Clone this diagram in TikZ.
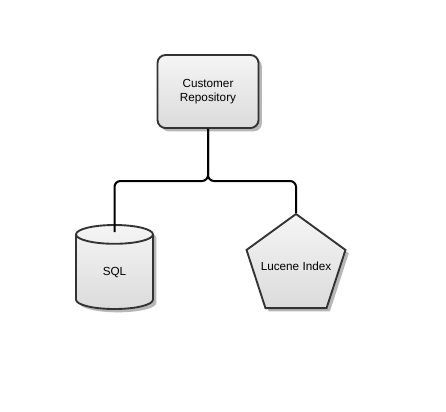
\documentclass[tikz,border=0pt]{standalone}
\usepackage{fontspec}
\setmainfont{Liberation Sans}
\usetikzlibrary{shapes.geometric,shadows}

\tikzset{
    box/.style={draw=black!80, line width=1.4pt, top color=white!96!black, bottom color=black!14,
        drop shadow={shadow xshift=2.5pt, shadow yshift=-2.5pt, fill=black!40, opacity=.7},
        font=\fontsize{8.8}{10.8}\selectfont, align=center, inner sep=0pt},
    wire/.style={line width=1.5pt, rounded corners=4.5pt}
}

\begin{document}
\begin{tikzpicture}[x=0.75pt, y=-0.75pt]
    \useasboundingbox (0,0) rectangle (446,411);
    \node[box, rounded corners=6pt, minimum width=75.75pt, minimum height=54.75pt] (repo) at (208, 91.5) {Customer\\Repository};
    \node[box, cylinder, shape border rotate=90, aspect=0.8, minimum width=57.75pt, minimum height=63pt, anchor=shape center] (sql) at (114.5, 267) {SQL};
    \node[box, regular polygon, regular polygon sides=5, minimum size=78pt] (lucene) at (296, 266) {\makebox[0pt]{Lucene Index}};
    
    \coordinate (split) at (208, 181);
    \draw[wire] (repo.south) -- (split) -| ([yshift=-6pt]sql.north);
    \draw[wire] (repo.south) -- (split) -| (lucene.north);
\end{tikzpicture}
\end{document}
